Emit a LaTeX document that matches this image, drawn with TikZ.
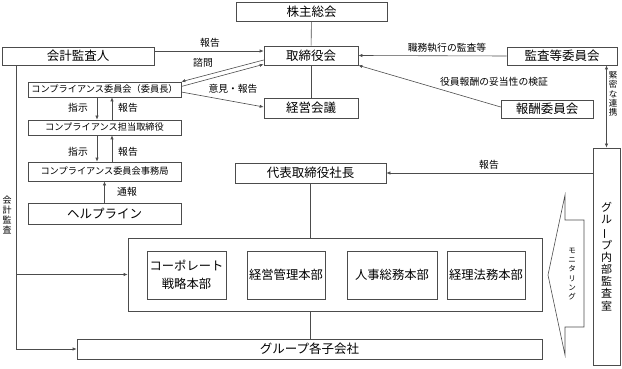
\documentclass[tikz,border=0pt]{standalone}
\usepackage{fontspec}
\usepackage{graphicx}
\setmainfont{Noto Sans CJK JP}
\usetikzlibrary{arrows.meta}

\newcommand{\chouon}{\rotatebox[origin=c]{90}{ー}}

\begin{document}
\begin{tikzpicture}[x=1pt, y=-1pt, >={Latex[length=4pt,width=3.2pt]},
    box/.style={draw=black!70, rectangle, line width=0.6pt, inner sep=0pt, font=\fontsize{12.5}{14}\selectfont},
    cbox/.style={box, minimum width=153pt, font=\fontsize{9.2}{11}\selectfont},
    hq/.style={box, minimum height=48pt, align=center, font=\fontsize{12.3}{18}\selectfont},
    lbl/.style={inner sep=0pt, font=\fontsize{9.8}{12}\selectfont},
    tate/.style={inner sep=0pt, align=center},
    conn/.style={draw=black!70, line width=0.6pt}]
    \useasboundingbox (0,0) rectangle (622,369);

    % Top level
    \node[box, minimum width=151pt, minimum height=19pt] (kabunushi) at (311.5,11.5) {株主総会};
    \node[box, minimum width=152pt, minimum height=18pt] (kaikei) at (78,56) {会計監査人};
    \node[box, minimum width=94pt, minimum height=19pt] (torishimari) at (311,55.5) {取締役会};
    \node[box, minimum width=110pt, minimum height=18pt] (kansa) at (562,56) {監査等委員会};
    \node[box, minimum width=92pt, minimum height=18pt] (houshu) at (547,109) {報酬委員会};
    \node[box, minimum width=94pt, minimum height=20pt] (keiei) at (311,108) {経営会議};

    % Compliance
    \node[cbox, minimum height=15pt] (comp) at (104.5,89.5) {コンプライアンス委員会（委員長）};
    \node[cbox, minimum height=15pt] (tanto) at (104.5,127.5) {コンプライアンス担当取締役};
    \node[cbox, minimum height=19pt] (jimu) at (104.5,171.5) {コンプライアンス委員会事務局};
    \node[box, minimum width=153pt, minimum height=21pt] (help) at (104.5,213.5) {ヘルプライン};

    % Executive
    \node[box, minimum width=151pt, minimum height=20pt] (daihyo) at (310.5,173) {代表取締役社長};
    \node[box, minimum width=414pt, minimum height=73pt] (honbu) at (335,274.5) {};
    \node[hq, minimum width=79pt] (corp) at (186.5,275) {コーポレート\\戦略本部};
    \node[hq, minimum width=78pt] (kanri) at (286,275) {経営管理本部};
    \node[hq, minimum width=90pt] (jinji) at (392,275) {人事総務本部};
    \node[hq, minimum width=78pt] (keiri) at (486,275) {経理法務本部};
    \node[box, minimum width=465pt, minimum height=20pt] (kogaisha) at (309.5,349) {グループ各子会社};

    % Internal audit
    \node[box, minimum width=27pt, minimum height=217pt, align=center, font=\fontsize{11}{12.2}\selectfont] (naibu) at (606.5,256.5) {グ\\ル\\\chouon\\プ\\内\\部\\監\\査\\室};
    \draw[conn] (565,195) -- (565,220) -- (584,220) -- (584,327) -- (565,327) -- (565,355) -- (548,275) -- cycle;
    \node[tate, font=\fontsize{7.5}{9.2}\selectfont] (moni) at (572,274) {モ\\ニ\\タ\\リ\\ン\\グ};

    % Associations
    \draw[conn] (kabunushi) -- (torishimari);
    \draw[conn] (torishimari) -- (keiei);
    \draw[conn, ->] ([yshift=5pt]kaikei.east) -- ([yshift=4.5pt]torishimari.west);
    \draw[conn, ->] ([yshift=-4.5pt]torishimari.west) -- (comp.north east);
    \draw[conn, ->] ([yshift=3pt]comp.east) -- ([yshift=1pt]torishimari.south west);
    \draw[conn, ->] ([yshift=-2.5pt]comp.east) -- ([yshift=1pt]keiei.west);
    \draw[conn, ->] (kansa.west) -- (torishimari.east);
    \draw[conn, ->] ([yshift=2pt]houshu.west) -- (torishimari.south east);
    \draw[conn, ->] ([xshift=-7.5pt]comp.south) -- ([xshift=-7.5pt]tanto.north);
    \draw[conn, ->] ([xshift=7.5pt]tanto.north) -- ([xshift=7.5pt]comp.south);
    \draw[conn, ->] ([xshift=-7.5pt]tanto.south) -- ([xshift=-7.5pt]jimu.north);
    \draw[conn, ->] ([xshift=7.5pt]jimu.north) -- ([xshift=7.5pt]tanto.south);
    \draw[conn, ->] (help.north) -- (jimu.south);
    \draw[conn] (daihyo.south) -- (daihyo.south |- honbu.north);
    \draw[conn] (honbu.south -| daihyo.south) -- (kogaisha.north -| daihyo.south);
    \draw[conn, ->] (naibu.west |- daihyo.east) -- (daihyo.east);
    \draw[conn, <->] (naibu.north) -- (naibu.north |- kansa.south);
    \coordinate (kc) at ([xshift=15pt]kaikei.south west);
    \draw[conn, ->] (kc) |- (kogaisha.west);
    \draw[conn, ->] (kc |- honbu.west) -- (honbu.west);

    % Labels
    \node[lbl] (lhoukoku) at (210,43) {報告};
    \node[lbl] (lshimon) at (203,63) {諮問};
    \node[lbl] (liken) at (233,89) {意見・報告};
    \node[lbl] (lshokumu) at (447,48) {職務執行の監査等};
    \node[lbl] (lyakuin) at (494,82) {役員報酬の妥当性の検証};
    \node[lbl] (lshiji1) at (78,108) {指示};
    \node[lbl] (lhoukoku1) at (128,108) {報告};
    \node[lbl] (lshiji2) at (78,152) {指示};
    \node[lbl] (lhoukoku2) at (128,152) {報告};
    \node[lbl] (ltsuhou) at (127,192) {通報};
    \node[lbl] (lhoukoku3) at (489,165) {報告};
    \node[tate, font=\fontsize{8.5}{9.2}\selectfont] (lrenkei) at (613,94) {緊\\密\\な\\連\\携};
    \node[tate, font=\fontsize{9}{9.7}\selectfont] (lkaikei) at (7,215) {会\\計\\監\\査};
\end{tikzpicture}
\end{document}
